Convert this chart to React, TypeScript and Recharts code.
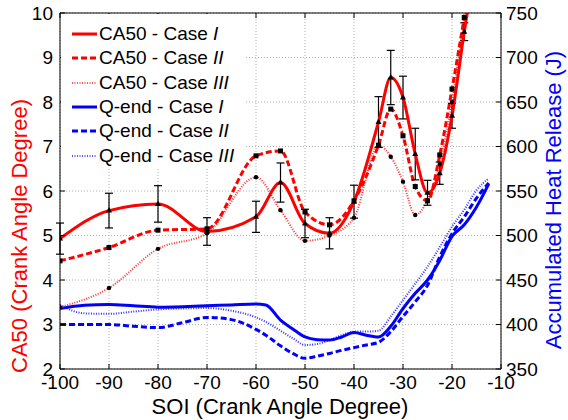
import React from 'react'
import { LineChart, Line, XAxis, YAxis, CartesianGrid, ErrorBar, Legend, Label } from 'recharts'

const caSoi = [-100, -90, -80, -70, -60, -55, -50, -45, -40, -35, -32.5, -30, -27.5, -25, -22.5, -20, -17.5, -15]
const ca50CaseI = [4.93, 5.56, 5.71, 5.09, 5.42, 6.19, 5.27, 5.05, 5.76, 7.55, 8.55, 8.1, 6.83, 5.96, 6.4, 7.69, 9.58, 11.3]
const ca50CaseIErr = [0.35, 0.39, 0.41, 0.31, 0.35, 0.44, 0.32, 0.35, 0.37, 0.57, 0.61, 0.48, 0.58, 0.28, 0.25, 0.28, 0.2, undefined]
const ca50CaseII = [4.43, 4.73, 5.12, 5.15, 6.79, 6.9, 5.53, 5.24, 5.78, 7.03, 7.84, 7.24, 6.1, 5.78, 6.81, 8.29, 9.9, 11.6]
const ca50CaseIII = [3.39, 3.82, 4.7, 5.05, 6.31, 5.57, 4.88, 5.0, 5.4, 7.02, 6.77, 6.21, 5.46, 5.8, 6.6, 8.0, 9.9, 11.6]

const qSoi = [-100, -95, -90, -85, -80, -75, -70, -65, -60, -58, -55, -52.5, -50, -47.5, -45, -42.5, -40, -37.5, -35, -32.5, -30, -27.5, -25, -22.5, -20, -17.5, -15, -12.5]
const qEndCaseI = [418, 421.5, 422.5, 421, 419.5, 420, 421, 422, 423, 422, 405, 395, 386, 383, 382.5, 386, 391, 388, 386, 398, 418, 435, 450, 472, 499, 512, 532, 558]
const qEndCaseII = [400, 400, 400, 398, 396.5, 402, 408, 405.5, 394.5, 388, 376, 367.5, 362, 364.5, 367.5, 371, 374, 377, 380, 392, 409, 425.5, 444, 476, 502, 521, 542, 559]
const qEndCaseIII = [422, 412.5, 412, 414.5, 417, 418, 418.5, 415.5, 408, 403, 393, 384.5, 377, 378, 382.5, 388, 392, 392, 393, 409, 427.5, 446, 465, 487, 510, 529, 551, 564]

const xTicks = [-100, -90, -80, -70, -60, -50, -40, -30, -20, -10]
const leftTicks = [2, 3, 4, 5, 6, 7, 8, 9, 10]
const rightTicks = [350, 400, 450, 500, 550, 600, 650, 700, 750]

const legendItems = [
  { name: 'CA50 - Case ', roman: 'I', color: '#ff0000', width: 3, dash: undefined },
  { name: 'CA50 - Case ', roman: 'II', color: '#ff0000', width: 3, dash: '6 3' },
  { name: 'CA50 - Case ', roman: 'III', color: '#ff5050', width: 2, dash: '1 1.5' },
  { name: 'Q-end - Case ', roman: 'I', color: '#0000ff', width: 3, dash: undefined },
  { name: 'Q-end - Case ', roman: 'II', color: '#0000ff', width: 3, dash: '6 3' },
  { name: 'Q-end - Case ', roman: 'III', color: '#5050ff', width: 2, dash: '1 1.5' },
]

const FONT = '"Liberation Sans", Arial, sans-serif'

const caData = caSoi.map((soi, i) => ({
  soi,
  caseI: ca50CaseI[i],
  err: ca50CaseIErr[i],
  caseII: ca50CaseII[i],
  caseIII: ca50CaseIII[i],
}))

const qData = qSoi.map((soi, i) => ({
  soi,
  qI: qEndCaseI[i],
  qII: qEndCaseII[i],
  qIII: qEndCaseIII[i],
}))

const TriangleDot = (props: any) => {
  const { cx, cy, value, index } = props
  if (cx == null || cy == null || value > 10) return <g key={index} />
  return <path key={index} d={`M${cx},${cy - 3.5} L${cx + 3},${cy + 2} L${cx - 3},${cy + 2} Z`} fill="#000" />
}

const SquareDot = (props: any) => {
  const { cx, cy, value, index } = props
  if (cx == null || cy == null || value > 10) return <g key={index} />
  return <rect key={index} x={cx - 2.5} y={cy - 2.5} width={5} height={5} fill="#000" />
}

const RoundDot = (props: any) => {
  const { cx, cy, value, index } = props
  if (cx == null || cy == null || value > 10) return <g key={index} />
  return <circle key={index} cx={cx} cy={cy} r={2.2} fill="#000" />
}

const LeftLabel = () => {
  const cx = 19
  const cy = 236
  return (
    <text x={cx} y={cy} transform={`rotate(-90 ${cx} ${cy})`} textAnchor="middle" dominantBaseline="central"
      fill="#ff0000" fontSize={22} fontFamily={FONT}>
      CA50 (Crank Angle Degree)
    </text>
  )
}

const RightLabel = () => {
  const cx = 553
  const cy = 200
  return (
    <text x={cx} y={cy} transform={`rotate(-90 ${cx} ${cy})`} textAnchor="middle" dominantBaseline="central"
      fill="#0000ff" fontSize={22} fontFamily={FONT}>
      Accumulated Heat Release (J)
    </text>
  )
}

const BottomLabel = () => (
  <text x={280} y={406} textAnchor="middle" dominantBaseline="central" fill="#000" fontSize={22} fontFamily={FONT}>
    SOI (Crank Angle Degree)
  </text>
)

const LegendBox = () => (
  <div style={{ width: 183, height: 153, background: '#fff', fontFamily: FONT, fontSize: 19, paddingTop: 8, boxSizing: 'border-box' }}>
    {legendItems.map((it, i) => (
      <div key={i} style={{ display: 'flex', alignItems: 'center', height: 24.3, whiteSpace: 'nowrap' }}>
        <svg width={38} height={10} style={{ flex: 'none' }}>
          <line x1={11} y1={5} x2={36} y2={5} stroke={it.color} strokeWidth={it.width} strokeDasharray={it.dash} />
        </svg>
        <span>{it.name}<i>{it.roman}</i></span>
      </div>
    ))}
  </div>
)

export default function App() {
  return (
    <div style={{ position: 'absolute', left: 0, top: 0, width: 568, height: 420, background: '#fff' }}>
      <LineChart width={568} height={420} margin={{ top: 12, right: 0, bottom: 0, left: 0 }}>
        <CartesianGrid yAxisId="ca" xAxisId="bottom" stroke="#b0b0b0" strokeDasharray="1 2" />
        <XAxis xAxisId="bottom" type="number" dataKey="soi" domain={[-100, -10]} ticks={xTicks} allowDataOverflow
          height={51} stroke="#000" tickSize={-5} tickMargin={12}
          tick={{ fontSize: 19, fill: '#000', fontFamily: FONT }}>
          <Label content={BottomLabel} />
        </XAxis>
        <XAxis xAxisId="top" orientation="top" type="number" dataKey="soi" domain={[-100, -10]} ticks={xTicks}
          allowDataOverflow height={1} stroke="#000" tickSize={-5} tickFormatter={() => ''} />
        <YAxis yAxisId="ca" orientation="left" domain={[2, 10]} ticks={leftTicks} allowDataOverflow width={60}
          stroke="#000" tickSize={-5} tickMargin={12} tick={{ fontSize: 19, fill: '#000', fontFamily: FONT }}>
          <Label content={LeftLabel} />
        </YAxis>
        <YAxis yAxisId="q" orientation="right" domain={[350, 750]} ticks={rightTicks} allowDataOverflow width={67}
          stroke="#000" tickSize={-5} tickMargin={10} tick={{ fontSize: 19, fill: '#000', fontFamily: FONT }}>
          <Label content={RightLabel} />
        </YAxis>

        <Line data={qData} xAxisId="bottom" yAxisId="q" dataKey="qIII" type="monotone" stroke="#3030ff"
          strokeWidth={2} strokeDasharray="1 1.5" dot={false} isAnimationActive={false} />
        <Line data={qData} xAxisId="bottom" yAxisId="q" dataKey="qII" type="monotone" stroke="#0000ff"
          strokeWidth={3} strokeDasharray="6 3" dot={false} isAnimationActive={false} />
        <Line data={qData} xAxisId="bottom" yAxisId="q" dataKey="qI" type="monotone" stroke="#0000ff"
          strokeWidth={3} dot={false} isAnimationActive={false} />

        <Line data={caData} xAxisId="bottom" yAxisId="ca" dataKey="caseIII" type="monotone" stroke="#ff3030"
          strokeWidth={2} strokeDasharray="1 1.5" dot={RoundDot} activeDot={false} isAnimationActive={false} />
        <Line data={caData} xAxisId="bottom" yAxisId="ca" dataKey="caseII" type="monotone" stroke="#ff0000"
          strokeWidth={3} strokeDasharray="6 3" dot={SquareDot} activeDot={false} isAnimationActive={false} />
        <Line data={caData} xAxisId="bottom" yAxisId="ca" dataKey="caseI" type="monotone" stroke="#ff0000"
          strokeWidth={3} dot={TriangleDot} activeDot={false} isAnimationActive={false}>
          <ErrorBar dataKey="err" direction="y" width={4} stroke="#000" strokeWidth={1.2} />
        </Line>

        <Legend layout="vertical" align="center" verticalAlign="middle" content={LegendBox}
          wrapperStyle={{ position: 'absolute', left: 61, top: 14, width: 183, height: 153 }} />
      </LineChart>
    </div>
  )
}
